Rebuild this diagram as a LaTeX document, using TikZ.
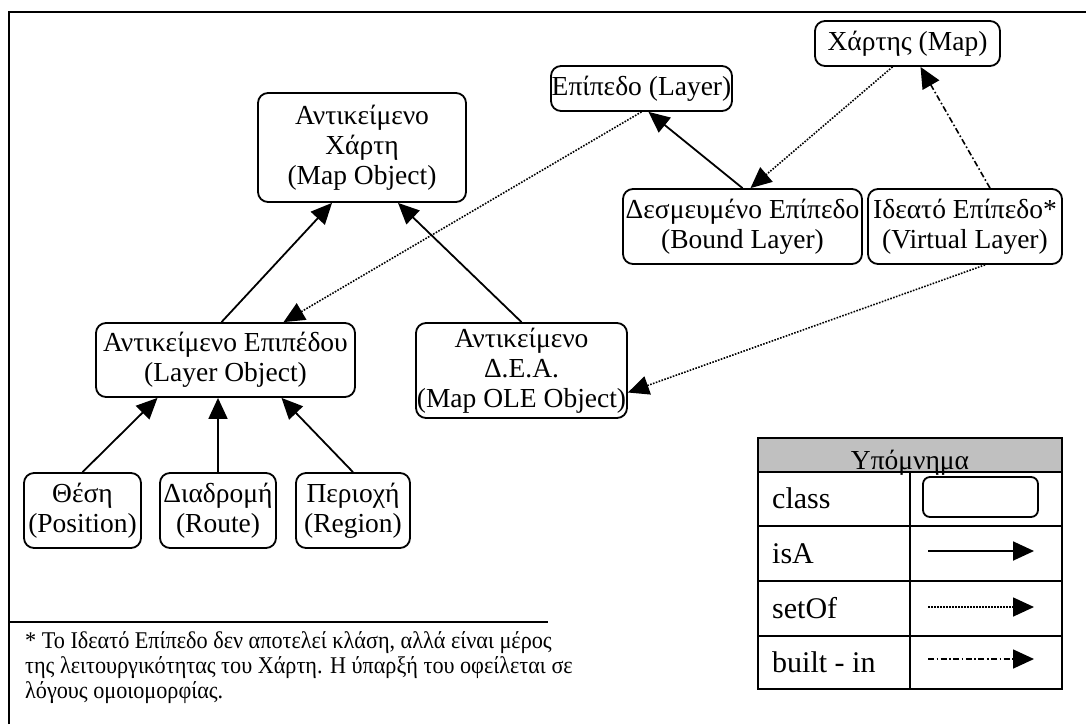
\documentclass[tikz,border=0pt]{standalone}
\usepackage{fontspec}
\setmainfont{Liberation Serif}
\newfontfamily\footfont[FakeStretch=0.925]{Liberation Serif}
\usetikzlibrary{arrows.meta}
\definecolor{legendgray}{RGB}{192,192,192}

\begin{document}
\begin{tikzpicture}[x=1pt,y=-1pt,
  txt/.style={font=\fontsize{27.5}{30}\selectfont},
  foot/.style={font=\footfont\fontsize{24}{25}\selectfont, anchor=base west, inner sep=0pt},
  legtxt/.style={font=\fontsize{30}{32}\selectfont, anchor=base west, inner sep=0pt},
  cls/.style={txt, draw, line width=1.8pt, rounded corners=10pt, align=center, inner sep=0pt},
  tip/.style={-{Triangle[length=21pt,width=19pt]}},
  isa/.style={tip, line width=1.8pt},
  setof/.style={tip, line width=1.6pt, dash pattern=on 1.6pt off 1.4pt},
  builtin/.style={tip, line width=1.6pt, dash pattern=on 6pt off 2.5pt on 1.6pt off 2.5pt},
  rule/.style={line width=2.2pt},
]
\useasboundingbox (0,0) rectangle (1086,724);

% outer frame (top and left edges only)
\draw[rule, line width=2.6pt] (9,724) -- (9,12) -- (1086,12);

% classes
\node[cls, minimum width=208pt, minimum height=109pt] (mapobj) at (362,147.5) {Αντικείμενο\\Χάρτη\\(Map Object)};
\node[cls, minimum width=181pt, minimum height=45pt] (layer) at (641.5,88.5) {Επίπεδο (Layer)};
\node[cls, minimum width=185pt, minimum height=45pt] (map) at (907.5,43.5) {Χάρτης (Map)};
\node[cls, minimum width=239pt, minimum height=75pt] (bound) at (742.5,226.5) {Δεσμευμένο Επίπεδο\\(Bound Layer)};
\node[cls, minimum width=194pt, minimum height=75pt] (virtual) at (965,226.5) {Ιδεατό Επίπεδο*\\(Virtual Layer)};
\node[cls, minimum width=259pt, minimum height=74pt] (layerobj) at (225.5,360) {Αντικείμενο Επιπέδου\\(Layer Object)};
\node[cls, minimum width=211pt, minimum height=95pt] (ole) at (521.5,370.5) {Αντικείμενο\\Δ.Ε.Α.\\(Map OLE Object)};
\node[cls, minimum width=117pt, minimum height=75pt] (position) at (82.5,510.5) {Θέση\\(Position)};
\node[cls, minimum width=116pt, minimum height=75pt] (route) at (218,510.5) {Διαδρομή\\(Route)};
\node[cls, minimum width=114pt, minimum height=75pt] (region) at (353,510.5) {Περιοχή\\(Region)};

% isA links
\draw[isa] ([xshift=-4pt]layerobj.north) -- ([xshift=-30pt]mapobj.south);
\draw[isa] (ole.north) -- ([xshift=36pt]mapobj.south);
\draw[isa] (position.north) -- ([xshift=-68pt]layerobj.south);
\draw[isa] (route.north) -- (route.north |- layerobj.south);
\draw[isa] (region.north) -- ([xshift=56pt]layerobj.south);
\draw[isa] (bound.north) -- ([xshift=7pt]layer.south);

% setOf links
\draw[setof] (layer.south) -- ([xshift=58pt]layerobj.north);
\draw[setof] ([xshift=-15pt]map.south) -- ([xshift=8pt]bound.north);
\draw[setof] ([xshift=20pt]virtual.south) -- ([yshift=-22pt]ole.east);

% built-in link
\draw[builtin] ([xshift=25pt]virtual.north) -- ([xshift=13pt]map.south);

% footnote
\draw[rule] (9,622) -- (548,622);
\node[foot] (foot1) at (25,648) {* Το Ιδεατό Επίπεδο δεν αποτελεί κλάση, αλλά είναι μέρος};
\node[foot] (foot2) at (25,673) {της λειτουργικότητας του Χάρτη. Η ύπαρξή του οφείλεται σε};
\node[foot] (foot3) at (25,698) {λόγους ομοιομορφίας.};

% legend
\fill[legendgray] (758,438) rectangle (1062,472);
\draw[rule] (758,438) rectangle (1062,689);
\draw[rule] (758,472) -- (1062,472);
\draw[rule] (758,526) -- (1062,526);
\draw[rule] (758,581) -- (1062,581);
\draw[rule] (758,636) -- (1062,636);
\draw[rule] (910,472) -- (910,689);
\node[txt, anchor=base, inner sep=0pt] (legtitle) at (910,469) {Υπόμνημα};
\node[legtxt] (lclass) at (772,508) {class};
\node[legtxt] (lisa) at (772,563) {isA};
\node[legtxt] (lsetof) at (772,618) {setOf};
\node[legtxt] (lbuilt) at (772,672) {built - in};
\node[draw, line width=1.8pt, rounded corners=7pt, minimum width=115pt, minimum height=40pt, inner sep=0pt] (lbox) at (980.5,497) {};
\coordinate (isaA) at (928,551);
\coordinate (isaB) at (1034,551);
\coordinate (setA) at (928,607);
\coordinate (setB) at (1034,607);
\coordinate (bltA) at (928,659);
\coordinate (bltB) at (1034,659);
\draw[isa] (isaA) -- (isaB);
\draw[setof] (setA) -- (setB);
\draw[builtin] (bltA) -- (bltB);
\end{tikzpicture}
\end{document}
